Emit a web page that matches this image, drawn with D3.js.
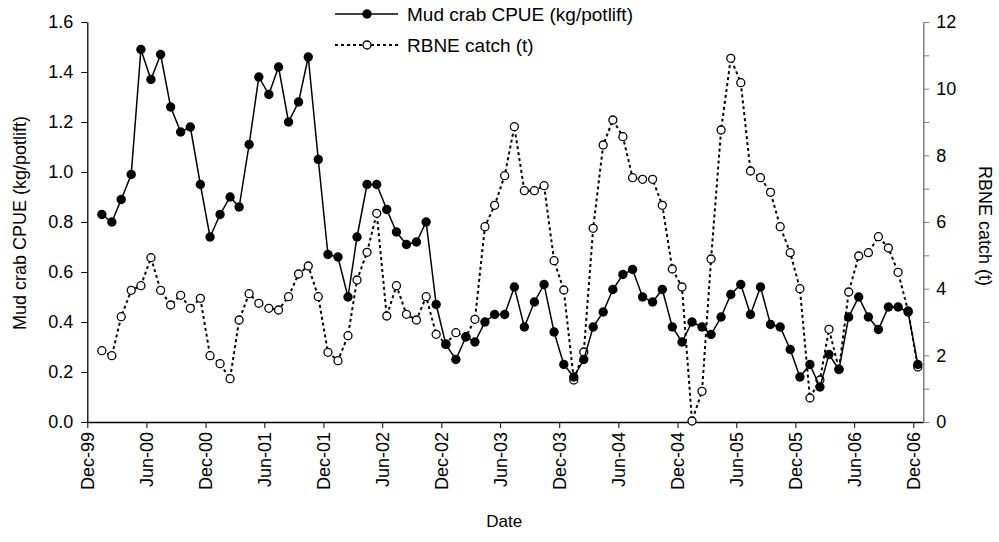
<!DOCTYPE html>
<html>
<head>
<meta charset="utf-8">
<script src="https://cdn.jsdelivr.net/npm/d3@7"></script>
<style>
  html, body { margin: 0; padding: 0; background: #fff; }
  svg { display: block; }
  text { font-family: "Liberation Sans", Arial, sans-serif; fill: #000; }
</style>
</head>
<body>
<svg id="chart" width="999" height="542"></svg>
<script>
// ---- Data ----
const months = [
  "2000-01","2000-02","2000-03","2000-04","2000-05","2000-06","2000-07","2000-08","2000-09","2000-10","2000-11","2000-12",
  "2001-01","2001-02","2001-03","2001-04","2001-05","2001-06","2001-07","2001-08","2001-09","2001-10","2001-11","2001-12",
  "2002-01","2002-02","2002-03","2002-04","2002-05","2002-06","2002-07","2002-08","2002-09","2002-10","2002-11","2002-12",
  "2003-01","2003-02","2003-03","2003-04","2003-05","2003-06","2003-07","2003-08","2003-09","2003-10","2003-11","2003-12",
  "2004-01","2004-02","2004-03","2004-04","2004-05","2004-06","2004-07","2004-08","2004-09","2004-10","2004-11","2004-12",
  "2005-01","2005-02","2005-03","2005-04","2005-05","2005-06","2005-07","2005-08","2005-09","2005-10","2005-11","2005-12",
  "2006-01","2006-02","2006-03","2006-04","2006-05","2006-06","2006-07","2006-08","2006-09","2006-10","2006-11","2006-12"
];
// Mud crab CPUE (kg/potlift), left axis
const cpue = [
  0.83,0.80,0.89,0.99,1.49,1.37,1.47,1.26,1.16,1.18,0.95,0.74,
  0.83,0.90,0.86,1.11,1.38,1.31,1.42,1.20,1.28,1.46,1.05,0.67,
  0.66,0.50,0.74,0.95,0.95,0.85,0.76,0.71,0.72,0.80,0.47,0.31,
  0.25,0.34,0.32,0.40,0.43,0.43,0.54,0.38,0.48,0.55,0.36,0.23,
  0.18,0.25,0.38,0.44,0.53,0.59,0.61,0.50,0.48,0.53,0.38,0.32,
  0.40,0.38,0.35,0.42,0.51,0.55,0.43,0.54,0.39,0.38,0.29,0.18,
  0.23,0.14,0.27,0.21,0.42,0.50,0.42,0.37,0.46,0.46,0.44,0.23
];
// RBNE catch (t), right axis
const rbne = [
  2.14,1.99,3.16,3.95,4.09,4.93,3.95,3.51,3.80,3.41,3.71,1.99,
  1.75,1.30,3.06,3.85,3.56,3.41,3.36,3.76,4.44,4.68,3.76,2.09,
  1.84,2.59,4.26,5.09,6.26,3.18,4.09,3.23,3.06,3.76,2.63,2.34,
  2.68,2.56,3.08,5.86,6.50,7.39,8.86,6.94,6.94,7.09,4.84,3.96,
  1.26,2.10,5.81,8.31,9.06,8.56,7.33,7.28,7.28,6.50,4.59,4.05,
  0.03,0.92,4.89,8.76,10.91,10.18,7.53,7.33,6.89,5.86,5.08,4.00,
  0.72,1.26,2.78,1.58,3.90,4.98,5.08,5.56,5.22,4.49,3.33,1.65
];
const xTickDates = ["1999-12-01","2000-06-01","2000-12-01","2001-06-01","2001-12-01","2002-06-01","2002-12-01",
  "2003-06-01","2003-12-01","2004-06-01","2004-12-01","2005-06-01","2005-12-01","2006-06-01","2006-12-01"];
const xTickLabels = ["Dec-99","Jun-00","Dec-00","Jun-01","Dec-01","Jun-02","Dec-02","Jun-03","Dec-03",
  "Jun-04","Dec-04","Jun-05","Dec-05","Jun-06","Dec-06"];
const leftTicks = [0,0.2,0.4,0.6,0.8,1.0,1.2,1.4,1.6];
const rightTicks = [0,1,2,3,4,5,6,7,8,9,10,11,12];
const rightTickLabels = ["0","","2","","4","","6","","8","","10","","12"];
const seriesNames = ["Mud crab CPUE (kg/potlift)", "RBNE catch (t)"];

// ---- Layout ----
const svg = d3.select("#chart");
const L = 87.3, R = 923.3, T = 22, B = 422;
const FS = 18;
const parseDay = d3.timeParse("%Y-%m-%d");
const pointDate = m => parseDay(m + "-15");

const x = d3.scaleTime().domain([parseDay("1999-12-01"), parseDay("2007-01-01")]).range([L, R]);
const yL = d3.scaleLinear().domain([0, 1.6]).range([B, T]);
const yR = d3.scaleLinear().domain([0, 12]).range([B, T]);

// X axis
const gx = svg.append("g").attr("transform", `translate(0,${B})`)
  .call(d3.axisBottom(x).tickValues(xTickDates.map(parseDay))
    .tickFormat((d, i) => xTickLabels[i]).tickSize(6).tickSizeOuter(0));
gx.select(".domain").attr("stroke", "#000").attr("stroke-width", 1.3);
gx.selectAll(".tick line").attr("stroke", "#000");
gx.selectAll(".tick text")
  .attr("font-size", FS).attr("font-family", null)
  .attr("text-anchor", "end").attr("y", 0).attr("dy", "0.35em")
  .attr("transform", "translate(0,10) rotate(-90)")
  .attr("x", 0);

// Left axis
const gl = svg.append("g").attr("transform", `translate(${L},0)`)
  .call(d3.axisLeft(yL).tickValues(leftTicks).tickFormat(d3.format(".1f"))
    .tickSize(6).tickSizeOuter(0).tickPadding(8));
gl.select(".domain").attr("stroke", "#000").attr("stroke-width", 1.3);
gl.selectAll(".tick line").attr("stroke", "#000");
gl.selectAll(".tick text").attr("font-size", FS).attr("font-family", null);

// Right axis
const gr = svg.append("g").attr("transform", `translate(${R},0)`)
  .call(d3.axisRight(yR).tickValues(rightTicks).tickFormat((d, i) => rightTickLabels[i])
    .tickSize(6).tickSizeOuter(0).tickPadding(7));
gr.select(".domain").attr("stroke", "#808080").attr("stroke-width", 1.5);
gr.selectAll(".tick line").attr("stroke", "#808080");
gr.selectAll(".tick text").attr("font-size", FS).attr("font-family", null);

// Axis titles
svg.append("text").attr("transform", `translate(20,${(T + B) / 2 + 1}) rotate(-90)`)
  .attr("text-anchor", "middle").attr("dy", "0.35em").attr("font-size", FS)
  .text("Mud crab CPUE (kg/potlift)");
svg.append("text").attr("transform", `translate(985,${(T + B) / 2 + 4}) rotate(90)`)
  .attr("text-anchor", "middle").attr("dy", "0.35em").attr("font-size", FS)
  .text("RBNE catch (t)");
svg.append("text").attr("x", (L + R) / 2 - 1).attr("y", 521)
  .attr("text-anchor", "middle").attr("dy", "0.35em").attr("font-size", FS - 1)
  .text("Date");

// ---- Series ----
const dataR = months.map((m, i) => ({ d: pointDate(m), v: rbne[i] }));
const dataL = months.map((m, i) => ({ d: pointDate(m), v: cpue[i] }));

// RBNE (dotted, hollow markers) drawn first
svg.append("path").datum(dataR)
  .attr("fill", "none").attr("stroke", "#000").attr("stroke-width", 2)
  .attr("stroke-dasharray", "3,3")
  .attr("d", d3.line().x(d => x(d.d)).y(d => yR(d.v)));
svg.append("g").selectAll("circle").data(dataR).join("circle")
  .attr("cx", d => x(d.d)).attr("cy", d => yR(d.v)).attr("r", 4)
  .attr("fill", "#fff").attr("stroke", "#000").attr("stroke-width", 1.3);

// CPUE (solid, filled markers)
svg.append("path").datum(dataL)
  .attr("fill", "none").attr("stroke", "#000").attr("stroke-width", 1.5)
  .attr("d", d3.line().x(d => x(d.d)).y(d => yL(d.v)));
svg.append("g").selectAll("circle").data(dataL).join("circle")
  .attr("cx", d => x(d.d)).attr("cy", d => yL(d.v)).attr("r", 4.7)
  .attr("fill", "#000");

// ---- Legend ----
const lg = svg.append("g");
const lx1 = 335, lx2 = 398, lmx = 367;
const ly = [14, 45];
lg.append("line").attr("x1", lx1).attr("x2", lx2).attr("y1", ly[0]).attr("y2", ly[0])
  .attr("stroke", "#000").attr("stroke-width", 1.5);
lg.append("circle").attr("cx", lmx).attr("cy", ly[0]).attr("r", 4.7).attr("fill", "#000");
lg.append("line").attr("x1", lx1).attr("x2", lx2).attr("y1", ly[1]).attr("y2", ly[1])
  .attr("stroke", "#000").attr("stroke-width", 2).attr("stroke-dasharray", "3,3");
lg.append("circle").attr("cx", lmx).attr("cy", ly[1]).attr("r", 4)
  .attr("fill", "#fff").attr("stroke", "#000").attr("stroke-width", 1.3);
seriesNames.forEach((n, i) => {
  lg.append("text").attr("x", 407).attr("y", ly[i]).attr("dy", "0.35em")
    .attr("font-size", FS + 1).text(n);
});
</script>
</body>
</html>
